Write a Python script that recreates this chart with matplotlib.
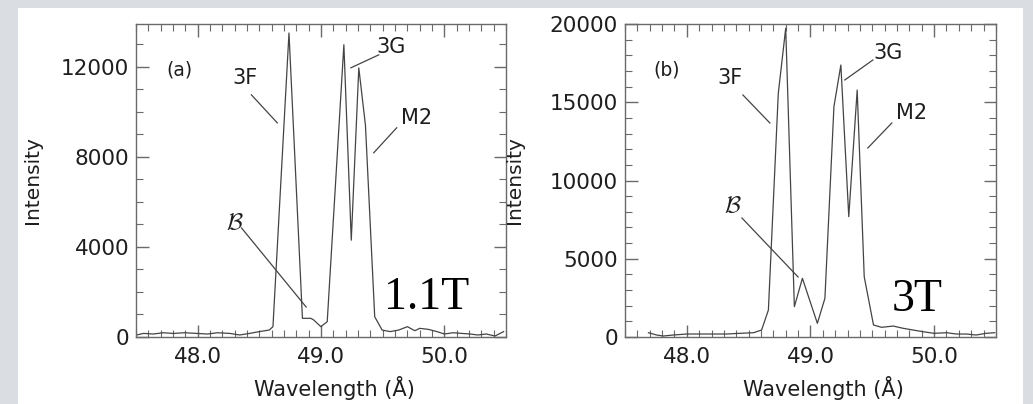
import numpy as np
import matplotlib
matplotlib.use("Agg")
import matplotlib.pyplot as plt
from matplotlib.patches import Rectangle
from matplotlib.ticker import MultipleLocator, FormatStrFormatter

# spectrum (a) 1.1T
wl_a = [47.505, 47.56, 47.64, 47.72, 47.80, 47.895, 47.99, 48.08, 48.16, 48.26,
        48.34, 48.42, 48.50, 48.58, 48.61, 48.74, 48.849, 48.917, 48.94, 48.998,
        49.05, 49.185, 49.245, 49.306, 49.36, 49.435, 49.495, 49.56, 49.63, 49.70,
        49.76, 49.80, 49.87, 49.94, 50.0, 50.07, 50.14, 50.21, 50.27, 50.34,
        50.41, 50.48]
int_a = [90, 160, 133, 190, 160, 190, 160, 133, 190, 160,
         90, 160, 240, 310, 460, 13500, 830, 830, 760, 460,
         680, 12980, 4300, 11950, 9400, 900, 310, 240, 310, 460,
         280, 385, 340, 240, 133, 190, 160, 133, 90, 133,
         44, 240]

# spectrum (b) 3T
wl_b = [47.69, 47.756, 47.81, 47.89, 48.0, 48.106, 48.21, 48.32, 48.43, 48.54,
        48.605, 48.66, 48.74, 48.80, 48.87, 48.935, 49.056, 49.117, 49.19, 49.246,
        49.31, 49.378, 49.435, 49.51, 49.575, 49.67, 49.75, 49.83, 49.91, 50.0,
        50.1, 50.18, 50.26, 50.34, 50.42, 50.49]
int_b = [275, 128, 64, 128, 192, 192, 192, 192, 236, 275,
         447, 1725, 15570, 19730, 1940, 3750, 875, 2470, 14720, 17380,
         7690, 15780, 3850, 767, 620, 700, 556, 447, 340, 236,
         275, 192, 192, 128, 236, 275]

# labels: (text, text x, text y, line x0, line y0, line x1, line y1)
labels_a = [("3F", 48.38, 11510, 48.435, 10755, 48.645, 9510),
            ("3G", 49.565, 12890, 49.242, 11955, 49.468, 12530),
            ("M2", 49.774, 9730, 49.427, 8180, 49.613, 9290)]
labels_b = [("3F", 48.349, 16550, 48.454, 15464, 48.672, 13675),
            ("3G", 49.626, 18148, 49.278, 16423, 49.505, 17700),
            ("M2", 49.82, 14314, 49.464, 12077, 49.658, 13675)]
blabel_a = (48.298, 5110, 48.355, 4845, 48.879, 1333)
blabel_b = (48.373, 8435, 48.446, 7604, 48.9, 3834)

panels = [
    dict(wl=wl_a, inten=int_a, ymax=13900, major=4000, tag="(a)", tagpos=(47.855, 11865),
         field="1.1T", fieldpos=(49.855, 1733), labels=labels_a, blab=blabel_a,
         rect=[0.1317, 0.1658, 0.3582, 0.7748], ylab_x=-0.255),
    dict(wl=wl_b, inten=int_b, ymax=20000, major=5000, tag="(b)", tagpos=(47.84, 17060),
         field="3T", fieldpos=(49.86, 2364), labels=labels_b, blab=blabel_b,
         rect=[0.6050, 0.1658, 0.3591, 0.7748], ylab_x=-0.272),
]

plt.rcParams['font.family'] = ['DejaVu Sans']
fig = plt.figure(figsize=(10.33, 4.04), dpi=100)
fig.patch.set_facecolor('#dadee3')
fig.patches.append(Rectangle((18 / 1033, 0), (1023 - 18) / 1033, 1 - 8 / 404,
                             transform=fig.transFigure, facecolor='white',
                             edgecolor='none', zorder=-5))

axis_col = '#6a6a6a'
line_col = '#444444'
text_col = '#1e1e1e'

for p in panels:
    ax = fig.add_axes(p['rect'])
    ax.set_zorder(2)
    ax.set_facecolor('white')
    ax.plot(p['wl'], p['inten'], color=line_col, lw=0.9)
    ax.set_xlim(47.5, 50.5)
    ax.set_ylim(0, p['ymax'])
    ax.xaxis.set_major_locator(MultipleLocator(1.0))
    ax.xaxis.set_minor_locator(MultipleLocator(0.1))
    ax.xaxis.set_major_formatter(FormatStrFormatter('%.1f'))
    ax.yaxis.set_major_locator(MultipleLocator(p['major']))
    ax.yaxis.set_minor_locator(MultipleLocator(1000))
    ax.tick_params(which='both', direction='in', top=True, right=True,
                   color=axis_col, labelcolor=text_col, labelsize=15.5)
    ax.tick_params(which='major', length=9, width=1)
    ax.tick_params(which='minor', length=5, width=0.8)
    ax.tick_params(axis='x', which='major', pad=7)
    ax.tick_params(axis='y', which='major', pad=5)
    for s in ax.spines.values():
        s.set_color(axis_col)
        s.set_linewidth(1.0)
    ax.set_xlabel('Wavelength (Å)', fontsize=15, color=text_col)
    ax.set_ylabel('Intensity', fontsize=14.5, color=text_col)
    ax.xaxis.set_label_coords(0.535, -0.125)
    ax.yaxis.set_label_coords(p['ylab_x'], 0.5)

    ax.text(p['tagpos'][0], p['tagpos'][1], p['tag'], fontsize=13.5, color=text_col,
            ha='center', va='center')
    for name, tx, ty, x0, y0, x1, y1 in p['labels']:
        ax.text(tx, ty, name, fontsize=15, color=text_col, ha='center', va='center')
        ax.plot([x0, x1], [y0, y1], color=line_col, lw=0.9)
    tx, ty, x0, y0, x1, y1 = p['blab']
    ax.text(tx, ty, r'$\mathcal{B}$', fontsize=17, color=text_col, ha='center',
            va='center', math_fontfamily='cm')
    ax.plot([x0, x1], [y0, y1], color=line_col, lw=0.9)
    ax.text(p['fieldpos'][0], p['fieldpos'][1], p['field'], fontsize=33,
            family='Liberation Serif', color='black', ha='center', va='center')

fig.savefig('out.png', dpi=100, facecolor=fig.get_facecolor())
